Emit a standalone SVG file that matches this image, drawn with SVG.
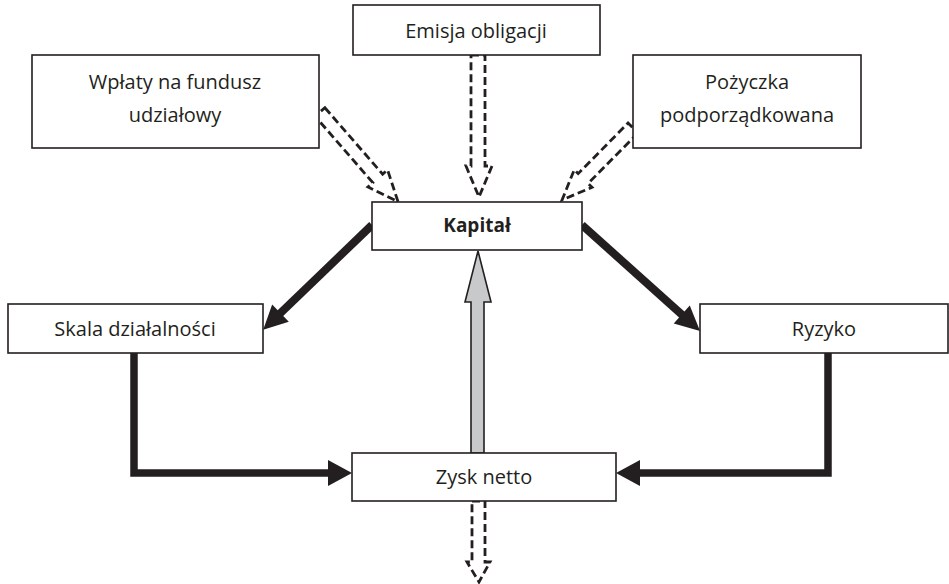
<svg xmlns="http://www.w3.org/2000/svg" width="949" height="584" viewBox="0 0 949 584">
<style>
.box{fill:#fff;stroke:#231f20;stroke-width:1.6}
.t{font-family:"Open Sans",Lato,"Liberation Sans",sans-serif;font-size:20px;fill:#231f20;text-anchor:middle}
.b{font-weight:bold;font-size:19px}
.dash{fill:none;stroke:#231f20;stroke-width:2.8;stroke-dasharray:8,4}
.thick{fill:none;stroke:#231f20;stroke-width:8}
.head{fill:#231f20;stroke:none}
.grey{fill:#c8c9cb;stroke:#231f20;stroke-width:1.6}
</style>
<rect width="949" height="584" fill="#fff"/>
<g id="connectors">
  <polygon class="dash" points="471,55 485,55 485,166 492,166 479,197 466,166 471,166"/>
  <polygon class="dash" points="472,501 485,501 485,562 490,562 479,582 467,562 472,562"/>
  <g transform="translate(320,112) rotate(49)">
    <polygon class="dash" points="0,-6.5 88,-6.5 88,-13 119,0 88,13 88,6.5 0,6.5"/>
  </g>
  <g transform="translate(633,128) rotate(134.6)">
    <polygon class="dash" points="0,-7 71,-7 71,-12.5 101,0 71,12.5 71,7 0,7"/>
  </g>
  <g transform="translate(372,225) rotate(136.1)">
    <line class="thick" x1="0" y1="0" x2="130" y2="0"/>
    <polygon class="head" points="127,-12 151,0 127,12"/>
  </g>
  <g transform="translate(582,225) rotate(41.9)">
    <line class="thick" x1="0" y1="0" x2="137" y2="0"/>
    <polygon class="head" points="134,-12 158.6,0 134,12"/>
  </g>
  <polyline class="thick" style="stroke-width:7.5" points="134,353 134,473 330,473"/>
  <polygon class="head" points="328,460 352,473 328,486"/>
  <polyline class="thick" style="stroke-width:7.5" points="828,353 828,473 638,473"/>
  <polygon class="head" points="640,460 616,473 640,486"/>
  <polygon class="grey" points="471,453 484,453 484,302 491,302 478,251 465,302 471,302"/>
</g>
<g id="emisja"><rect class="box" x="353" y="5" width="247" height="50"/><text class="t" x="476" y="38">Emisja obligacji</text></g>
<g id="wplaty"><rect class="box" x="32" y="55" width="287" height="93"/><text class="t" x="175" y="89">Wpłaty na fundusz</text><text class="t" x="175" y="122">udziałowy</text></g>
<g id="pozyczka"><rect class="box" x="633" y="55" width="228" height="93"/><text class="t" x="747" y="89">Pożyczka</text><text class="t" x="747" y="122">podporządkowana</text></g>
<g id="kapital"><rect class="box" x="372" y="202" width="210" height="48"/><text class="t b" x="477" y="232">Kapitał</text></g>
<g id="skala"><rect class="box" x="8" y="304" width="255" height="49"/><text class="t" x="135" y="336">Skala działalności</text></g>
<g id="ryzyko"><rect class="box" x="700" y="304" width="248" height="49"/><text class="t" x="824" y="336">Ryzyko</text></g>
<g id="zysk"><rect class="box" x="352" y="453" width="264" height="48"/><text class="t" x="484" y="484">Zysk netto</text></g>
</svg>
